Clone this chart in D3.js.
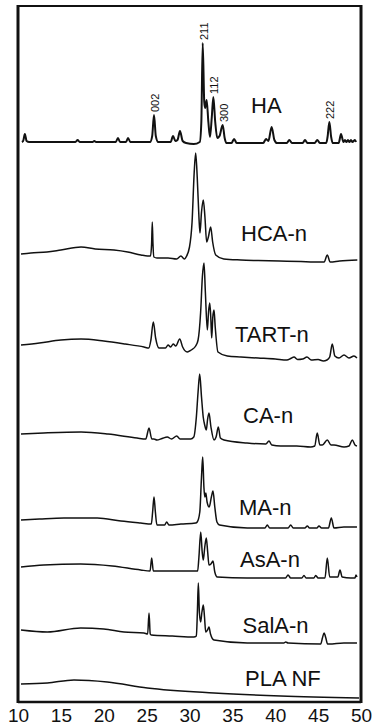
<!DOCTYPE html>
<html>
<head>
<meta charset="utf-8">
<script src="https://cdn.jsdelivr.net/npm/d3@7"></script>
<style>
  body { margin: 0; background: #fff; }
  svg { display: block; font-family: "Liberation Sans", Arial, sans-serif; }
</style>
</head>
<body>
<div id="chart"></div>
<script>
// XRD patterns, 2-theta (deg) vs stacked intensity (a.u., already offset)
const ticks2theta = [10, 15, 20, 25, 30, 35, 40, 45, 50];

const haPattern = [
  [10.45,560],[10.6,561],[10.8,568],[11.0,561],[11.3,560],[14.0,560],[16.7,560],[16.95,562],[17.2,560],
  [18.7,560],[18.9,561],[19.1,560],[21.4,560],[21.66,564],[21.9,560],[22.6,560],[22.83,564],[23.1,560],
  [25.4,560],[25.65,566],[25.86,587],[26.07,566],[26.35,560],[27.8,560],[28.08,566],[28.35,561],[28.6,562],
  [28.89,571],[29.2,561],[29.6,559],[30.5,558],[31.2,560],[31.38,580],[31.54,659],[31.72,600],[31.82,594],
  [32.0,602],[32.2,580],[32.39,565],[32.6,585],[32.78,605],[33.0,580],[33.24,564],[33.5,566],[33.87,577],
  [34.1,564],[34.3,559],[34.9,559],[35.2,563],[35.5,559],[38.6,559],[38.92,563],[39.2,561],[39.58,575],
  [39.9,562],[40.2,559],[41.35,559],[41.64,562],[41.95,559],[43.2,559],[43.47,562],[43.75,559],[44.6,559],
  [44.9,562],[45.2,559],[45.95,559],[46.1,565],[46.31,580],[46.52,565],[46.7,559],[47.4,559],[47.67,568],
  [47.95,560],[48.13,562],[48.3,560],[48.48,562],[48.65,560],[48.83,562],[49.0,560],[49.3,562],[49.42,560]
];
const hcaPattern = [
  [10.35,448],[11.5,449],[13.38,450],[15.0,452],[17.35,455],[19.0,453],[21.2,452],[22.8,450],[24.34,447],
  [25.1,446],[25.45,446],[25.58,458],[25.66,480],[25.74,458],[25.85,445],[26.2,444],[27.5,444],[28.5,443],
  [29.0,446],[29.4,443],[29.6,445],[30.0,455],[30.3,480],[30.55,530],[30.72,549],[30.9,525],[31.1,485],
  [31.22,469],[31.4,490],[31.61,502],[31.8,485],[32.0,460],[32.2,465],[32.47,475],[32.7,460],[33.06,447],
  [34.0,443],[36.0,442],[38.0,441.5],[40.5,441],[43.0,440.5],[44.52,440],[45.7,440],[46.07,447],[46.4,440],
  [47.5,441],[49.57,442]
];
const tartPattern = [
  [10.35,357],[12.5,359],[15.0,362],[17.35,363],[20.0,361],[22.5,358],[24.69,355],[25.25,354],[25.5,362],
  [25.78,380],[26.05,364],[26.44,354],[27.2,354],[27.5,357],[27.8,355],[28.1,358],[28.4,356],[28.86,363],
  [29.2,355],[29.74,350],[30.2,352],[30.72,356],[31.0,362],[31.3,390],[31.5,425],[31.69,439],[31.85,410],
  [32.08,372],[32.22,390],[32.36,399],[32.48,385],[32.59,364],[32.72,385],[32.86,392],[33.0,375],[33.32,350],
  [34.41,346],[36.0,345],[38.0,344],[40.0,343],[41.37,342],[41.8,343.5],[42.19,345],[42.6,342.5],[43.2,343],
  [43.7,345],[44.2,342],[45.0,342.5],[45.6,341],[46.03,342],[46.35,345],[46.65,358],[46.95,346],[47.43,344],
  [48.02,347],[48.6,344],[49.18,346],[49.53,344]
];
const caPattern = [
  [10.35,268],[13.0,269],[17.35,270],[20.5,268],[23.88,264],[24.9,263],[25.28,274],[25.6,263],[25.86,263],
  [26.2,262],[26.8,263.5],[27.41,265],[27.9,263],[28.51,266],[28.9,263],[29.5,263],[30.14,263],[30.5,265],
  [30.8,285],[31.0,310],[31.19,328],[31.4,305],[31.6,285],[31.8,276],[31.96,272],[32.1,282],[32.27,289],
  [32.5,275],[32.86,262],[33.1,265],[33.36,275],[33.6,264],[34.02,262],[36.71,259],[38.9,258],[39.27,261],
  [39.6,257],[40.63,256],[42.5,256],[44.13,255],[44.6,256],[44.9,269],[45.2,257],[45.49,257],[46.07,262],
  [46.5,257],[46.85,257],[48.02,255],[48.6,256],[48.98,262],[49.3,257],[49.53,256]
];
const maPattern = [
  [10.35,182],[12.5,183],[15.36,184],[19.25,184],[22.0,181],[24.31,179],[25.55,178],[25.7,190],[25.86,205],
  [26.02,190],[26.2,177],[26.33,177],[27.1,177],[27.34,180],[27.6,177],[29.0,178],[30.72,179],[30.9,180],
  [31.2,190],[31.4,225],[31.54,245],[31.68,215],[31.78,205],[31.9,209],[32.05,200],[32.3,195],[32.55,205],
  [32.74,211],[32.95,195],[33.2,180],[33.5,177],[36.74,174],[38.8,174],[39.07,177],[39.35,174],[41.5,174],
  [41.8,177],[42.1,174],[43.45,174],[43.74,176],[44.0,174],[44.85,174],[45.1,176],[45.4,174],[46.2,174],
  [46.54,184],[46.85,174],[48.0,175],[49.53,175]
];
const asaPattern = [
  [10.35,135],[13.0,137],[17.31,138],[21.0,136],[24.31,132],[25.4,131],[25.59,144],[25.78,131],[26.06,131],
  [28.0,131],[30.52,131],[30.95,131],[31.1,145],[31.31,170],[31.48,150],[31.61,142],[31.78,155],[31.96,164],
  [32.12,150],[32.27,137],[32.5,138],[32.74,141],[32.95,130],[33.24,125],[36.71,124],[41.2,124],[41.49,127],
  [41.8,124],[43.1,124],[43.35,126.5],[43.6,124],[44.5,124],[44.72,126.5],[45.0,124],[45.8,124],[46.07,144],
  [46.35,125],[46.65,125],[47.3,125],[47.55,132],[47.8,125],[48.8,124],[49.3,124],[49.42,127],[49.53,125]
];
const salaPattern = [
  [10.35,72],[13.42,70],[17.31,74],[20.0,73],[22.36,70],[24.69,69],[25.12,68],[25.28,89],[25.42,68],[25.54,67],
  [28.0,66],[30.52,65],[30.8,66],[30.92,90],[31.03,119],[31.15,90],[31.3,80],[31.45,90],[31.61,97],[31.75,85],
  [31.89,70],[32.1,72],[32.27,75],[32.45,68],[32.86,62],[36.74,59],[41.0,59],[41.22,60],[41.5,59],[45.3,58],
  [45.5,64],[45.69,69],[45.9,64],[46.1,58],[46.27,58],[48.0,59],[49.53,59]
];
const plaPattern = [
  [10.35,18],[13.42,19],[16.53,22],[20.41,20],[25.08,14],[32.86,9],[40.64,6],[49.77,4]
];

const sampleNames = ["HA", "HCA-n", "TART-n", "CA-n", "MA-n", "AsA-n", "SalA-n", "PLA NF"];
const patterns = [haPattern, hcaPattern, tartPattern, caPattern, maPattern, asaPattern, salaPattern, plaPattern];

// HA reflections (hkl) marked on the reference pattern
const hklLabels = ["002", "211", "112", "300", "222"];
const hklPositions = [25.86, 31.54, 32.78, 33.87, 46.31];
const hklIntensities = [587, 659, 605, 577, 580];

const width = 379;
const height = 727;
const margin = { top: 6, right: 18, bottom: 25, left: 18 };

const svg = d3.select("#chart")
  .append("svg")
  .attr("width", width)
  .attr("height", height);

const x = d3.scaleLinear()
  .domain([10, 50])
  .range([margin.left, width - margin.right]);

const y = d3.scaleLinear()
  .domain([0, 696])
  .range([height - margin.bottom, margin.top]);

const line = d3.line()
  .x((d) => x(d[0]))
  .y((d) => y(d[1]))
  .curve(d3.curveMonotoneX);

// patterns
svg.append("g")
  .selectAll("path")
  .data(patterns)
  .enter()
  .append("path")
  .attr("d", line)
  .attr("fill", "none")
  .attr("stroke", "#111")
  .attr("stroke-width", (d, i) => i === 0 ? 2 : 1.5)
  .attr("stroke-linejoin", "round");

// sample names (left edge x, baseline y)
const namePos = [[251, 113], [241, 241], [235, 341.5], [243, 423], [239, 515], [240, 566.5], [242.5, 632.5], [245, 686]];
svg.append("g")
  .selectAll("text")
  .data(sampleNames)
  .enter()
  .append("text")
  .attr("x", (d, i) => namePos[i][0])
  .attr("y", (d, i) => namePos[i][1])
  .attr("font-size", 22)
  .attr("fill", "#111")
  .text((d) => d);

// hkl labels, rotated
svg.append("g")
  .selectAll("text")
  .data(hklLabels)
  .enter()
  .append("text")
  .attr("transform", (d, i) => `translate(${x(hklPositions[i]) + 5},${y(hklIntensities[i]) - 3}) rotate(-90)`)
  .attr("font-size", 11)
  .attr("fill", "#111")
  .text((d) => d);

// x axis
const xAxis = svg.append("g")
  .attr("transform", `translate(0,${height - margin.bottom})`)
  .call(d3.axisBottom(x).tickValues(ticks2theta).tickSize(0).tickPadding(7));
xAxis.select(".domain").remove();
xAxis.selectAll("text")
  .attr("font-size", 19)
  .attr("font-family", "Liberation Sans, Arial, sans-serif")
  .attr("fill", "#111");

// frame
const x0 = x(10), x1 = x(50), y0 = y(696), y1 = y(0);
svg.append("line").attr("x1", x0).attr("x2", x1).attr("y1", y0).attr("y2", y0)
  .attr("stroke", "#111").attr("stroke-width", 2);
svg.append("line").attr("x1", x0).attr("x2", x1).attr("y1", y1).attr("y2", y1)
  .attr("stroke", "#111").attr("stroke-width", 2.5);
svg.append("line").attr("x1", x0).attr("x2", x0).attr("y1", y0 - 1).attr("y2", y1 + 1)
  .attr("stroke", "#111").attr("stroke-width", 3);
svg.append("line").attr("x1", x1).attr("x2", x1).attr("y1", y0 - 1).attr("y2", y1 + 1)
  .attr("stroke", "#111").attr("stroke-width", 3);
</script>
</body>
</html>
